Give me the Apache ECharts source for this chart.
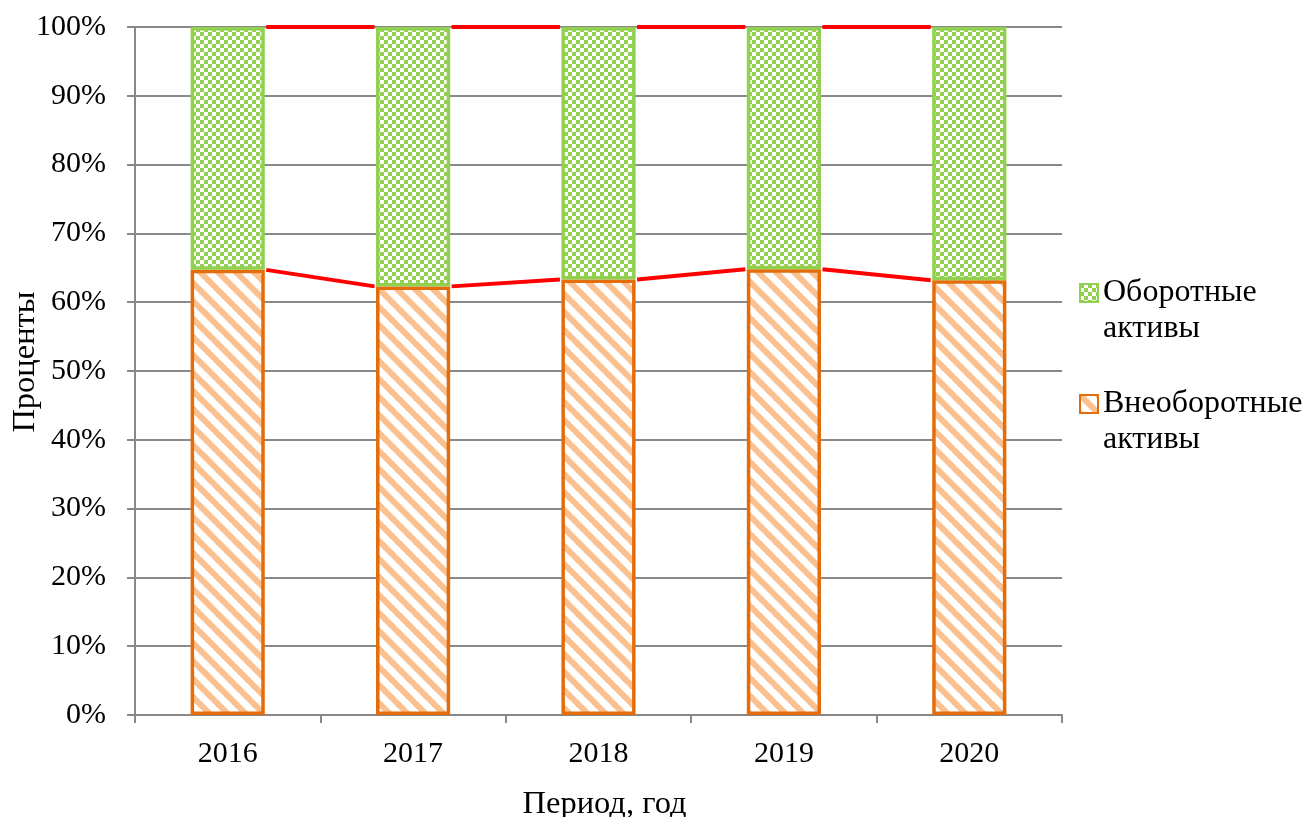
<!DOCTYPE html>
<html>
<head>
<meta charset="utf-8">
<script src="https://cdn.jsdelivr.net/npm/echarts@6/dist/echarts.min.js"></script>
<style>
  html, body { margin: 0; padding: 0; background: #fff; }
  #chart { width: 1306px; height: 817px; }
</style>
</head>
<body>
<div id="chart"></div>
<script>
// Asset structure by year, % of total
const years = ['2016', '2017', '2018', '2019', '2020'];
const nonCurrentAssets = [64.7, 62.3, 63.3, 64.8, 63.2];
const currentAssets = [35.3, 37.7, 36.7, 35.2, 36.8];
const yTicks = [0, 10, 20, 30, 40, 50, 60, 70, 80, 90, 100];

const FONT = '"Liberation Serif", "Times New Roman", serif';

// Diagonal hatch fill for the lower segment
function makeStripes() {
  const s = 18;
  const c = document.createElement('canvas');
  c.width = s; c.height = s;
  const g = c.getContext('2d');
  g.fillStyle = '#ffffff';
  g.fillRect(0, 0, s, s);
  g.strokeStyle = '#FAC090';
  g.lineWidth = 6;
  for (let k = -1; k <= 1; k++) {
    g.beginPath();
    g.moveTo(k * s - 2, -2);
    g.lineTo(k * s + s + 2, s + 2);
    g.stroke();
  }
  return c;
}

// Small checkerboard fill for the upper segment
function makeChecker() {
  const q = 4;
  const c = document.createElement('canvas');
  c.width = q * 2; c.height = q * 2;
  const g = c.getContext('2d');
  g.fillStyle = '#ffffff';
  g.fillRect(0, 0, q * 2, q * 2);
  g.fillStyle = '#92D050';
  g.fillRect(0, 0, q, q);
  g.fillRect(q, q, q, q);
  return c;
}

const stripeFill = { image: makeStripes(), repeat: 'repeat' };
const checkerFill = { image: makeChecker(), repeat: 'repeat' };

// Connector segments between neighbouring stacked columns
const totals = nonCurrentAssets.map((v, i) => v + currentAssets[i]);
const connectors = [];
for (let i = 0; i < years.length - 1; i++) {
  connectors.push([i, nonCurrentAssets[i], nonCurrentAssets[i + 1]]);
  connectors.push([i, totals[i], totals[i + 1]]);
}

const BAR_RATIO = 0.4;

const chart = echarts.init(document.getElementById('chart'), null, { renderer: 'canvas' });

chart.setOption({
  backgroundColor: '#ffffff',
  animation: false,
  textStyle: { fontFamily: FONT },
  grid: {
    left: 135, right: 244, top: 27, bottom: 102,
    containLabel: false,
    outerBoundsMode: 'none'
  },
  legend: {
    orient: 'vertical',
    left: 1079,
    top: 239,
    padding: 0,
    itemGap: 3,
    itemWidth: 18,
    itemHeight: 18,
    icon: 'rect',
    data: ['Оборотные активы', 'Внеоборотные активы'],
    // a blank leading line keeps the marker level with the first text line
    formatter: name => ' \n' + name.replace(' ', '\n'),
    textStyle: {
      fontFamily: FONT,
      fontSize: 32,
      color: '#000',
      lineHeight: 36
    }
  },
  xAxis: {
    type: 'category',
    data: years,
    name: 'Период, год',
    nameLocation: 'middle',
    nameGap: 73,
    nameMoveOverlap: false,
    nameTextStyle: { fontFamily: FONT, fontSize: 32.5, color: '#000', padding: [0, 0, 0, 12] },
    axisLine: { show: true, lineStyle: { color: '#898989', width: 2 } },
    axisTick: { show: true, length: 8, lineStyle: { color: '#898989', width: 2 } },
    axisLabel: { margin: 24, fontFamily: FONT, fontSize: 30, color: '#000' },
    splitLine: { show: false }
  },
  yAxis: {
    type: 'value',
    min: 0,
    max: 100,
    interval: 10,
    name: 'Проценты',
    nameLocation: 'middle',
    nameGap: 93,
    nameRotate: 90,
    nameMoveOverlap: false,
    nameTextStyle: { fontFamily: FONT, fontSize: 32.5, color: '#000', padding: [0, 0, 0, 18] },
    axisLine: { show: true, lineStyle: { color: '#898989', width: 2 } },
    axisTick: { show: true, length: 8, lineStyle: { color: '#898989', width: 2 } },
    axisLabel: {
      margin: 29,
      fontFamily: FONT,
      fontSize: 30,
      color: '#000',
      formatter: v => (yTicks.indexOf(v) >= 0 ? v + '%' : '')
    },
    splitLine: { show: true, lineStyle: { color: '#898989', width: 2 } }
  },
  series: [
    {
      name: 'Внеоборотные активы',
      type: 'bar',
      stack: 'assets',
      barWidth: (BAR_RATIO * 100) + '%',
      data: nonCurrentAssets,
      itemStyle: { color: stripeFill, borderColor: '#E46C0A', borderWidth: 3.5 },
      z: 2
    },
    {
      name: 'Оборотные активы',
      type: 'bar',
      stack: 'assets',
      barWidth: (BAR_RATIO * 100) + '%',
      data: currentAssets,
      itemStyle: { color: checkerFill, borderColor: '#92D050', borderWidth: 3.5 },
      z: 3
    },
    {
      name: 'connectors',
      type: 'custom',
      silent: true,
      z: 4,
      encode: { x: 0, y: 1 },
      data: connectors,
      renderItem: function (params, api) {
        const i = api.value(0);
        const a = api.coord([i, api.value(1)]);
        const b = api.coord([i + 1, api.value(2)]);
        const half = api.size([1, 0])[0] * BAR_RATIO / 2;
        return {
          type: 'line',
          shape: { x1: a[0] + half + 1.5, y1: a[1], x2: b[0] - half - 1.5, y2: b[1] },
          style: { stroke: '#FF0000', lineWidth: 4 }
        };
      }
    }
  ]
});
</script>
</body>
</html>
